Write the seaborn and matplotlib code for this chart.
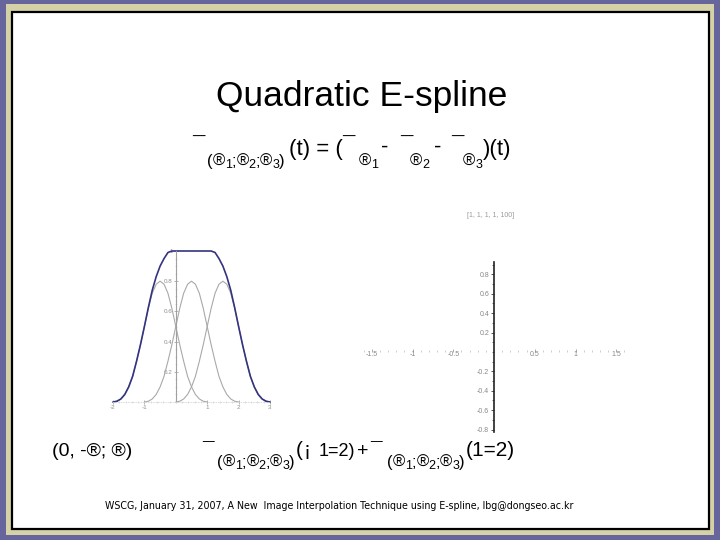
import matplotlib
matplotlib.use("Agg")
import matplotlib.pyplot as plt
import seaborn as sns
import pandas as pd
from matplotlib.patches import Rectangle
from matplotlib.ticker import MultipleLocator

sns.set_theme(style="white")
plt.rcParams['font.family'] = ['Liberation Sans', 'DejaVu Sans']

# ---------------- data ----------------
spline_x = [-2.0, -1.875, -1.75, -1.625, -1.5, -1.375, -1.25, -1.125, -1.0,
            -0.875, -0.75, -0.625, -0.5, -0.375, -0.25, -0.125, 0.0,
            0.125, 0.25, 0.375, 0.5, 0.625, 0.75, 0.875, 1.0,
            1.125, 1.25, 1.375, 1.5, 1.625, 1.75, 1.875, 2.0,
            2.125, 2.25, 2.375, 2.5, 2.625, 2.75, 2.875, 3.0]
spline_y = [0.0, 0.005, 0.02, 0.05, 0.10, 0.17, 0.27, 0.38, 0.50,
            0.625, 0.74, 0.83, 0.90, 0.95, 0.99, 1.0, 1.0,
            1.0, 1.0, 1.0, 1.0, 1.0, 1.0, 1.0, 1.0,
            1.0, 0.99, 0.95, 0.90, 0.83, 0.74, 0.625, 0.50,
            0.38, 0.27, 0.17, 0.10, 0.05, 0.02, 0.005, 0.0]

bump1_x = [-2.0, -1.875, -1.75, -1.625, -1.5, -1.375, -1.25, -1.125, -1.0,
           -0.875, -0.75, -0.625, -0.5, -0.375, -0.25, -0.125, 0.0,
           0.125, 0.25, 0.375, 0.5, 0.625, 0.75, 0.875, 1.0]
bump1_y = [0.0, 0.005, 0.02, 0.05, 0.10, 0.17, 0.27, 0.38, 0.50, 0.62, 0.72,
           0.78, 0.80, 0.78, 0.72, 0.62, 0.50, 0.38, 0.27, 0.17, 0.10, 0.05,
           0.02, 0.005, 0.0]
bump2_x = [-1.0, -0.875, -0.75, -0.625, -0.5, -0.375, -0.25, -0.125, 0.0,
           0.125, 0.25, 0.375, 0.5, 0.625, 0.75, 0.875, 1.0,
           1.125, 1.25, 1.375, 1.5, 1.625, 1.75, 1.875, 2.0]
bump2_y = [0.0, 0.005, 0.02, 0.05, 0.10, 0.17, 0.27, 0.38, 0.50, 0.62, 0.72,
           0.78, 0.80, 0.78, 0.72, 0.62, 0.50, 0.38, 0.27, 0.17, 0.10, 0.05,
           0.02, 0.005, 0.0]
bump3_x = [0.0, 0.125, 0.25, 0.375, 0.5, 0.625, 0.75, 0.875, 1.0,
           1.125, 1.25, 1.375, 1.5, 1.625, 1.75, 1.875, 2.0,
           2.125, 2.25, 2.375, 2.5, 2.625, 2.75, 2.875, 3.0]
bump3_y = [0.0, 0.005, 0.02, 0.05, 0.10, 0.17, 0.27, 0.38, 0.50, 0.62, 0.72,
           0.78, 0.80, 0.78, 0.72, 0.62, 0.50, 0.38, 0.27, 0.17, 0.10, 0.05,
           0.02, 0.005, 0.0]

left_xticks = [-2, -1, 1, 2, 3]
left_xticklabels = ["-2", "-1", "1", "2", "3"]
left_yticks = [0.2, 0.4, 0.6, 0.8, 1.0]
left_yticklabels = ["0.2", "0.4", "0.6", "0.8", "1"]

right_xticks = [-1.5, -1.0, -0.5, 0.5, 1.0, 1.5]
right_xticklabels = ["-1.5", "-1", "-0.5", "0.5", "1", "1.5"]
right_yticks = [-0.8, -0.6, -0.4, -0.2, 0.2, 0.4, 0.6, 0.8]
right_yticklabels = ["-0.8", "-0.6", "-0.4", "-0.2", "0.2", "0.4", "0.6", "0.8"]

# ---------------- figure & slide frame ----------------
W, H = 720, 540
fig = plt.figure(figsize=(7.2, 5.4), dpi=100)
fig.patch.set_facecolor('#67669c')


def frect(x0, y0, x1, y1, **kw):
    fig.add_artist(Rectangle((x0 / W, 1 - y1 / H), (x1 - x0) / W, (y1 - y0) / H,
                             transform=fig.transFigure, **kw))


frect(6, 4, 714, 535, facecolor='#d4d2a6', edgecolor='none', zorder=-3)
frect(12, 12, 709, 529, facecolor='white', edgecolor='black', lw=1.6, zorder=-2)


def add_ax(x0, y0, x1, y1):
    ax = fig.add_axes([x0 / W, 1 - y1 / H, (x1 - x0) / W, (y1 - y0) / H])
    ax.set_zorder(2)
    return ax


# ---------------- left plot ----------------
axl = add_ax(113, 251, 270, 402)
axl.set_facecolor('none')
for xs, ys in [(bump1_x, bump1_y), (bump2_x, bump2_y), (bump3_x, bump3_y)]:
    sns.lineplot(x=xs, y=ys, ax=axl, color='#a9a9a9', lw=0.8, clip_on=False,
                 estimator=None, sort=False)
sns.lineplot(x=spline_x, y=spline_y, ax=axl, color='#33337f', lw=1.2,
             clip_on=False, estimator=None, sort=False)
axl.set_xlim(-2, 3)
axl.set_ylim(0, 1)
axl.spines['top'].set_visible(False)
axl.spines['right'].set_visible(False)
axl.spines['left'].set_position(('data', 0))
axl.spines['left'].set_color('#a0a0a0')
axl.spines['left'].set_linewidth(0.8)
axl.spines['bottom'].set_position(('data', 0))
axl.spines['bottom'].set_color('#d8d8d8')
axl.spines['bottom'].set_linewidth(0.6)
axl.spines['bottom'].set_linestyle((0, (1, 2)))
axl.set_xticks(left_xticks)
axl.set_xticklabels(left_xticklabels)
axl.set_yticks(left_yticks)
axl.set_yticklabels(left_yticklabels)
axl.xaxis.set_minor_locator(MultipleLocator(0.2))
axl.yaxis.set_minor_locator(MultipleLocator(0.05))
axl.tick_params(axis='both', which='both', bottom=True, left=True)
axl.tick_params(axis='both', which='major', labelsize=4.5, labelcolor='#909090',
                color='#a8a8a8', length=2.5, width=0.6, pad=1, direction='inout')
axl.tick_params(axis='both', which='minor', color='#d0d0d0', length=1.2,
                width=0.5, direction='inout')

# ---------------- right plot ----------------
axr = add_ax(363.6, 261.8, 624.4, 431.5)
axr.set_facecolor('none')
axr.set_xlim(-1.6, 1.6)
axr.set_ylim(-0.82, 0.93)
axr.spines['top'].set_visible(False)
axr.spines['right'].set_visible(False)
axr.spines['left'].set_position(('data', 0))
axr.spines['left'].set_color('#222222')
axr.spines['left'].set_linewidth(1.2)
axr.spines['bottom'].set_position(('data', 0))
axr.spines['bottom'].set_visible(False)
axr.set_xticks(right_xticks)
axr.set_xticklabels(right_xticklabels)
axr.set_yticks(right_yticks)
axr.set_yticklabels(right_yticklabels)
axr.xaxis.set_minor_locator(MultipleLocator(0.1))
axr.yaxis.set_minor_locator(MultipleLocator(0.1))
axr.tick_params(axis='both', which='both', bottom=True, left=True)
axr.tick_params(axis='x', which='major', labelsize=5, labelcolor='#888888',
                color='#aaaaaa', length=2.5, width=0.7, pad=-1,
                direction='in')
axr.tick_params(axis='y', which='major', labelsize=5, labelcolor='#888888',
                color='#555555', length=2.5, width=0.7, pad=1)
axr.tick_params(axis='x', which='minor', color='#c4c4c4', length=1.5,
                width=0.6, direction='in')
axr.tick_params(axis='y', which='minor', color='#555555', length=1.5, width=0.6)
fig.text(491 / W, 1 - 217 / H, "[1, 1, 1, 1, 100]", fontsize=5,
         color='#9a9a9a', ha='center', va='baseline')

# ---------------- slide texts ----------------
renderer = fig.canvas.get_renderer()


def run(x, y, parts, color='black', weight='normal'):
    for s, size, dy in parts:
        t = fig.text(x / W, 1 - (y + dy) / H, s, fontsize=size, color=color,
                     ha='left', va='baseline', fontweight=weight)
        bb = t.get_window_extent(renderer=renderer)
        x = bb.x1


def sub3(size=12, dsize=9):
    return [("(", size, 0), ("®", size, 0), ("1", dsize, 2), (";", size, 0),
            ("®", size, 0), ("2", dsize, 2), (";", size, 0), ("®", size, 0),
            ("3", dsize, 2), (")", size, 0)]


fig.text(362 / W, 1 - 106 / H, "Quadratic E-spline", fontsize=25.5,
         ha='center', va='baseline', color='black')

# line 1
B1, S1 = 155, 166
M1 = 16
run(192, B1, [("¯", M1, -2)], weight='bold')
run(207, S1, sub3())
run(289, B1, [("(t) = (", M1, 0)])
run(342, B1, [("¯", M1, -2)], weight='bold')
run(359, S1, [("®", 12, 0), ("1", 9, 2)])
run(381, B1, [("-", M1, -2)])
run(400, B1, [("¯", M1, -2)], weight='bold')
run(410, S1, [("®", 12, 0), ("2", 9, 2)])
run(434, B1, [("-", M1, -2)])
run(451, B1, [("¯", M1, -2)], weight='bold')
run(463, S1, [("®", 12, 0), ("3", 9, 2)])
run(483, B1, [(")(t)", M1, 0)])

# line 2
B2, S2 = 456, 467
M2 = 15
run(52, B2, [("(0, -®; ®)", 14, 0)])
run(202, B2, [("¯", M2, 0)], weight='bold')
run(217, S2, sub3())
run(296, B2, [("(", M2, 0), ("¡", M2, 0)])
run(319, B2, [("1=2)", 13, 0)])
run(357, B2, [("+", 14, 0)])
run(370, B2, [("¯", M2, 0)], weight='bold')
run(387, S2, sub3())
run(466, B2, [("(1=2)", M2, 0)])

# footer
fig.text(105 / W, 1 - 509 / H,
         "WSCG, January 31, 2007, A New  Image Interpolation Technique using E-spline, lbg@dongseo.ac.kr",
         fontsize=6.85, family='DejaVu Sans', color='black', ha='left',
         va='baseline')

fig.savefig("out.png", dpi=100, facecolor=fig.get_facecolor())
